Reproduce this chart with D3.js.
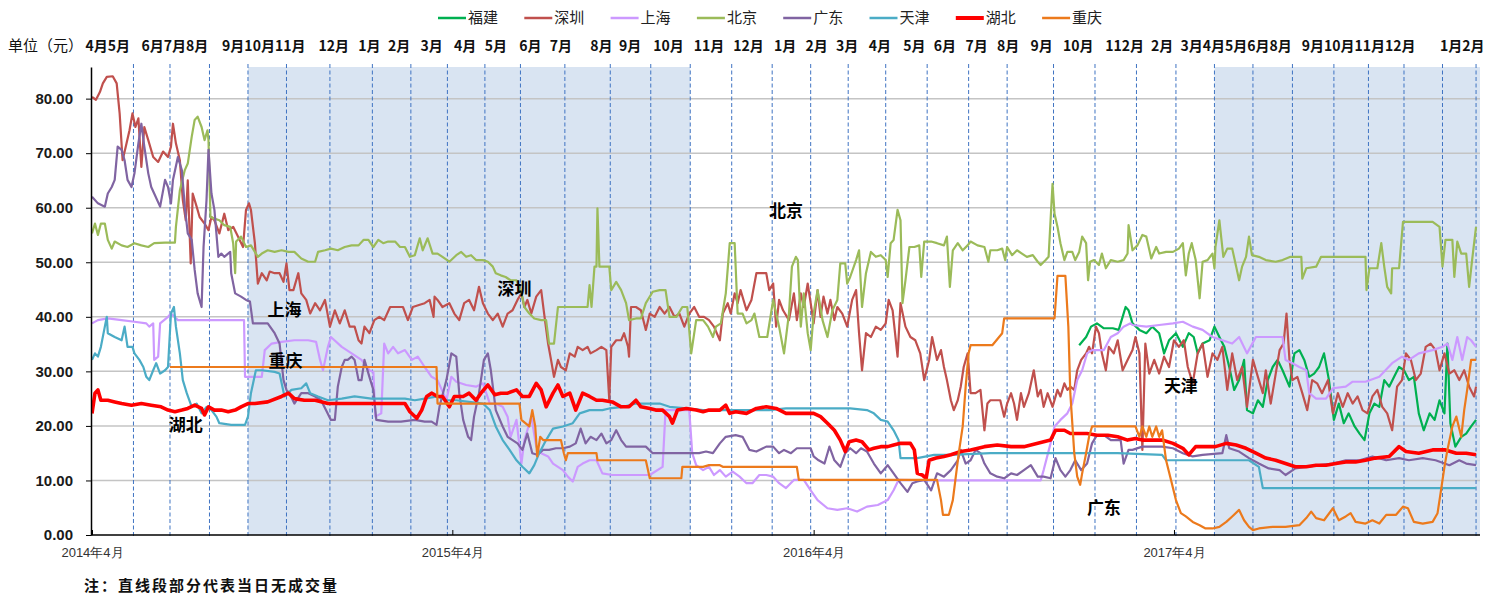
<!DOCTYPE html>
<html>
<head>
<meta charset="utf-8">
<script src="https://cdn.jsdelivr.net/npm/d3@7/dist/d3.min.js"></script>
<style>
	body{margin:0;background:#fff;}
	svg{display:block;font-family:"Noto Sans CJK SC","Noto Sans",sans-serif;}
</style>
</head>
<body>
<svg id="chart" width="1502" height="597"></svg>
<script>
// day offsets are counted from 2014-04-01
var baseDay = Date.UTC(2014, 3, 1);
var lastDay = 1406;

var seriesNames = ['福建', '深圳', '上海', '北京', '广东', '天津', '湖北', '重庆'];
var seriesColors = ['#00b050', '#c0504d', '#cc99ff', '#9bbb59', '#8064a2', '#4bacc6', '#ff0000', '#ec7a1c'];

var fujian = [[1000,34.8],[1007,36.3],[1012,38.2],[1018,38.8],[1025,37.9],[1034,37.9],[1040,37.6],[1044,40],[1047,41.8],[1050,41.2],[1054,38.8],[1061,37.6],[1068,37],[1074,38.2],[1081,37],[1086,33.3],[1091,35.7],[1098,37],[1105,34.5],[1111,37],[1116,36.3],[1120,33.3],[1125,35.1],[1132,35.7],[1137,38.2],[1142,36.3],[1147,34.5],[1152,30.8],[1157,26.6],[1162,28.4],[1167,32.1],[1170,22.9],[1176,22.3],[1181,24.7],[1186,23.5],[1191,28.4],[1196,30.8],[1201,32.1],[1206,30.2],[1213,27.2],[1218,33.3],[1223,33.9],[1228,32.1],[1233,29],[1238,29.6],[1243,30.8],[1248,33.3],[1253,28.4],[1258,21.1],[1263,24.1],[1268,20.5],[1273,22.3],[1279,19.9],[1284,18.6],[1289,17.4],[1294,22.3],[1299,24.1],[1304,23.5],[1309,28.4],[1314,27.2],[1319,29],[1324,30.8],[1329,30.2],[1334,28.4],[1339,29],[1344,22.3],[1349,19.2],[1355,22.3],[1360,21.1],[1365,24.7],[1370,22.3],[1373,35.1],[1376,20.5],[1381,16.2],[1387,18],[1392,18.6],[1397,19.9],[1402,21.1]];

var shenzhen = [[0,80.3],[4,79.8],[8,81.2],[11,82.8],[15,84],[21,84.1],[25,82.8],[28,77.3],[31,68.7],[35,71.8],[38,74.2],[41,77.3],[44,74.8],[47,76.4],[50,67.5],[53,74.8],[57,72.4],[62,69.3],[67,68.4],[72,70.3],[77,69.3],[80,71.2],[82,75.4],[85,71.8],[89,68.7],[92,61.4],[95,57.7],[97,65],[100,49.8],[102,62.6],[106,60.2],[109,58.3],[114,57.1],[118,55.9],[121,58.3],[124,57.7],[129,55.3],[134,58.9],[138,55.9],[143,56.5],[148,54.7],[153,52.8],[156,59.6],[159,60.8],[161,59.6],[165,53.5],[168,46.1],[172,48],[177,46.7],[180,48.3],[185,48],[190,48],[194,46.4],[197,49.8],[200,44.9],[204,44.9],[209,48],[212,44.3],[217,43.1],[221,40.6],[226,42.5],[231,41.2],[236,43.1],[241,38.2],[246,41.2],[251,38.8],[256,41.2],[261,38.2],[266,38.2],[270,35.7],[273,35.1],[276,38.2],[281,37],[286,39.4],[291,40],[296,39.4],[302,41.8],[308,41.8],[315,41.8],[320,39.4],[325,41.8],[332,42.2],[337,42.5],[342,43.1],[346,40],[347,43.7],[350,43.1],[355,41.8],[362,42.5],[367,40.6],[372,39.4],[377,42.5],[382,43.1],[387,41.2],[392,45.5],[396,42.5],[401,40.6],[406,39.4],[411,40.6],[416,38.2],[421,40.6],[426,41.2],[431,43.1],[435,44.3],[438,41.8],[441,43.1],[445,40.6],[450,43.7],[455,44.9],[458,40.6],[462,35.1],[465,32.1],[468,29],[472,32.1],[475,30.8],[480,30.2],[484,33.3],[489,32.7],[492,34.5],[497,33.9],[502,34.5],[505,33.3],[511,33.9],[516,34.5],[521,33.9],[524,24.7],[526,34.5],[531,35.7],[536,35.7],[539,37],[543,34.5],[544,32.7],[546,41.8],[551,41.8],[556,41.2],[561,37.6],[565,40.6],[570,40],[575,41.8],[580,40.6],[585,41.8],[590,40],[595,40.6],[600,38.2],[605,40.6],[610,41.8],[615,40],[620,40],[625,39.4],[630,38.2],[636,35.7],[639,40.6],[644,42.5],[647,40.6],[651,44.3],[654,42.5],[657,44.9],[663,41.2],[668,43.1],[673,48],[678,48],[683,48],[686,44.9],[690,46.1],[693,38.2],[696,43.1],[700,41.2],[706,39.4],[711,44.3],[714,39.4],[718,44.3],[721,41.8],[725,46.1],[728,42.5],[731,38.8],[735,44.9],[738,40],[741,43.7],[745,40.6],[748,43.1],[752,39.4],[755,41.8],[760,40.6],[765,38.2],[770,43.1],[774,44.9],[777,37],[780,30.2],[784,37],[789,36.3],[794,38.2],[799,37.6],[804,38.8],[807,43.1],[811,41.2],[816,32.7],[819,42.5],[824,38.2],[829,36.3],[834,35.7],[839,33.3],[843,28.4],[848,32.1],[851,36.3],[856,32.1],[860,33.9],[863,30.8],[866,28.4],[870,24.7],[873,22.9],[877,24.7],[880,27.2],[883,30.8],[887,33.3],[890,26],[895,26],[900,26.6],[904,19.2],[907,24.1],[910,24.7],[920,24.7],[924,21.7],[927,24.1],[931,26],[934,24.1],[937,21.1],[941,26],[944,23.5],[949,26],[954,30.2],[958,25.4],[961,26.6],[964,23.5],[968,26],[973,23.5],[978,26.6],[981,25.4],[985,27.8],[988,26.6],[991,27.2],[995,26.6],[998,30.2],[1002,32.1],[1007,33.3],[1010,34.5],[1013,33.3],[1017,38.2],[1020,37],[1023,33.3],[1027,30.2],[1030,34.5],[1035,33.3],[1039,35.7],[1044,30.2],[1049,32.1],[1054,33.9],[1057,36.3],[1061,33.3],[1064,15.6],[1067,35.1],[1071,29.6],[1076,32.1],[1081,29.6],[1086,32.7],[1091,30.8],[1096,35.7],[1101,34.5],[1106,35.7],[1110,30.8],[1115,27.8],[1120,33.3],[1125,35.1],[1130,29],[1135,33.3],[1140,32.1],[1145,34.5],[1150,26.6],[1155,33.3],[1160,28.4],[1165,30.8],[1170,23.5],[1176,32.1],[1181,29],[1186,26],[1189,30.2],[1194,24.1],[1198,28.4],[1203,33.9],[1207,35.1],[1210,40.6],[1213,32.1],[1216,28.4],[1221,29],[1226,26],[1231,22.9],[1236,28.4],[1241,27.8],[1246,26],[1252,28.4],[1257,22.3],[1262,26],[1267,23.5],[1272,26],[1277,24.1],[1282,25.4],[1287,22.9],[1292,22.3],[1297,25.4],[1302,26.6],[1307,23.5],[1312,22.3],[1317,19.2],[1322,27.2],[1327,28.4],[1331,33.3],[1336,32.1],[1341,28.4],[1346,29.6],[1351,34.5],[1356,35.1],[1361,33.9],[1365,30.2],[1370,33.3],[1375,29.6],[1380,30.2],[1385,28.4],[1390,30.2],[1395,27.2],[1400,25.4],[1402,27.2]];

var shanghai = [[0,38.8],[6,39.4],[16,39.7],[30,39.4],[43,39.1],[55,38.8],[58,38.2],[62,38.8],[63,32.1],[67,32.7],[69,38.8],[77,40],[80,40.6],[87,39.4],[97,39.4],[114,39.4],[131,39.4],[154,39.4],[155,29],[172,29],[175,33.9],[182,35.1],[192,35.4],[205,35.7],[219,35.7],[227,35.4],[231,32.1],[234,30.2],[239,34.5],[242,36.3],[253,34.5],[263,33.3],[273,32.1],[281,30.2],[285,29.9],[287,21.7],[293,22.3],[296,35.1],[300,33.3],[305,34.5],[310,33.3],[317,33.9],[324,32.1],[330,32.7],[337,30.8],[344,29],[350,28.4],[359,24.7],[364,29],[369,28.1],[379,27.5],[389,27.2],[396,27.8],[403,24.1],[409,24.1],[416,23.5],[421,21.7],[424,18],[430,21.1],[435,13.1],[438,17.4],[441,19.2],[445,21.7],[450,16.2],[455,15],[462,14.4],[467,13.1],[472,12.5],[477,11.9],[482,10.7],[487,9.8],[492,12.5],[497,13.1],[504,13.7],[511,13.7],[517,11.3],[527,11],[551,11],[565,11],[578,12.5],[581,22.9],[605,22.9],[608,15],[612,12.8],[619,11.9],[625,12.5],[630,11],[636,11.9],[642,10.7],[649,11.6],[656,10.7],[663,9.5],[669,9.5],[676,11],[683,11],[690,10.7],[696,9.5],[703,8.6],[711,10.1],[721,10.1],[728,8.2],[735,6.4],[745,4.9],[755,4.6],[765,4.9],[775,4.3],[785,5.2],[796,5.5],[806,6.4],[812,8.2],[817,10.1],[846,10],[904,10],[961,10],[964,11.9],[971,16.8],[975,19.9],[981,21.1],[988,22.3],[993,24.1],[998,28.4],[1003,30.2],[1008,33.3],[1013,33.9],[1025,33.9],[1032,36.3],[1039,37],[1045,38.2],[1052,38.8],[1054,38.5],[1068,38.2],[1081,38.5],[1095,38.8],[1105,39.1],[1115,38.2],[1125,37.6],[1135,36.3],[1145,35.7],[1155,35.1],[1162,36.3],[1170,33.3],[1179,36.3],[1206,36.3],[1209,32.1],[1216,31.5],[1223,30.8],[1230,30.2],[1233,26],[1240,25],[1250,25],[1257,26.9],[1270,27.2],[1277,28.1],[1290,28.1],[1304,29],[1317,31.5],[1327,32.7],[1334,32.1],[1344,33.3],[1358,33.9],[1368,34.5],[1373,35.1],[1378,32.1],[1383,36.3],[1388,32.1],[1393,36.3],[1397,35.7],[1402,34.5]];

var beijing = [[0,55.3],[3,57.1],[6,55],[9,57.1],[13,57.1],[16,54.1],[20,52.5],[23,53.8],[30,53.1],[36,52.8],[43,53.5],[50,53.1],[57,52.8],[63,53.5],[74,53.6],[84,53.6],[85,56.5],[89,63.2],[94,66.9],[97,68.1],[101,73],[104,76.1],[107,76.7],[111,74.8],[114,72.4],[117,74.2],[118,72.4],[120,58.3],[124,58],[129,57.7],[134,56.8],[140,56.5],[143,53.5],[145,48],[146,53.8],[151,54.7],[156,52.8],[161,53.1],[165,51.9],[168,51],[172,51.6],[178,52.2],[185,51.9],[192,52.2],[199,51.9],[205,51.9],[212,50.7],[219,50.1],[226,50.1],[229,51.9],[236,52.2],[242,52.5],[249,52.2],[256,52.8],[263,53.1],[270,53.1],[275,54.1],[280,54.1],[285,52.8],[290,54.1],[295,53.5],[300,53.8],[307,53.8],[312,52.8],[317,52.8],[322,51],[327,51.3],[332,54.4],[335,52.2],[340,54.4],[345,51.6],[350,51.6],[355,51],[362,50.1],[369,51.3],[374,51.9],[379,51],[384,51.3],[389,50.4],[396,50.4],[401,50.1],[406,49.2],[409,48],[414,47.6],[419,47.3],[424,46.7],[430,46.7],[435,44.3],[438,41.8],[443,40.6],[448,39.7],[455,39.4],[460,39.4],[463,35.1],[468,35.1],[472,41.8],[502,41.8],[504,45.8],[506,41.8],[509,49.2],[511,49.2],[512,59.9],[514,49.2],[524,49.2],[526,44.9],[531,46.4],[536,44.9],[541,42.5],[544,39.4],[551,39.7],[556,39.7],[561,42.5],[568,44.6],[575,44.9],[581,44.9],[585,40],[592,40],[598,41.8],[603,41.8],[607,33.3],[612,39.4],[619,39.4],[624,38.2],[629,36.3],[632,38.2],[637,38.8],[642,44.3],[646,53.5],[651,53.5],[654,40.6],[659,40.6],[663,38.8],[668,39.4],[671,40.6],[676,36.3],[684,36.3],[690,43.1],[696,38.2],[701,33.3],[706,40.6],[709,49.2],[713,51],[715,50.4],[718,38.2],[721,44.3],[725,37],[728,33.9],[731,40.6],[735,44.9],[740,39.4],[745,36.3],[750,41.2],[755,43.1],[758,49.8],[763,49.8],[765,46.1],[768,47.3],[774,50.4],[777,52.2],[780,41.8],[784,48],[789,51.9],[794,51],[799,51.3],[804,50.4],[806,47.3],[809,53.5],[812,54.1],[816,59.6],[819,57.7],[821,42.5],[824,46.7],[828,52.8],[833,52.8],[838,53.1],[840,47.3],[843,53.8],[850,53.8],[856,53.5],[863,53.1],[866,54.7],[869,45.5],[872,52.2],[877,53.5],[882,52.2],[887,53.1],[890,53.8],[897,53.1],[904,52.8],[908,50.1],[910,52.2],[917,52.2],[922,52.5],[925,50.4],[927,52.8],[932,51.3],[937,52.2],[942,51.6],[947,51],[953,51.3],[958,50.1],[961,49.5],[966,50.4],[969,51],[971,57.7],[973,64.4],[975,58.9],[978,56.5],[981,53.5],[985,50.4],[988,51.9],[993,51.9],[996,50.4],[1000,51.9],[1003,54.7],[1007,53.5],[1009,46.7],[1011,50.1],[1015,50.4],[1020,49.5],[1023,51.6],[1027,48.9],[1032,50.4],[1039,50.1],[1045,50.4],[1049,51.6],[1050,56.8],[1054,52.2],[1059,53.1],[1064,55],[1068,54.7],[1073,50.7],[1078,52.8],[1081,51.6],[1088,51.9],[1095,51.9],[1101,52.5],[1105,53.5],[1108,47.6],[1111,51.6],[1114,53.5],[1118,50.4],[1122,43.4],[1125,50.1],[1130,50.4],[1135,51.6],[1137,48.9],[1138,52.8],[1142,57.7],[1146,51],[1150,52.5],[1155,52.5],[1159,49.2],[1162,46.7],[1165,49.2],[1169,51],[1172,54.7],[1175,51.3],[1182,51],[1189,50.4],[1199,50.1],[1206,50.4],[1214,51],[1225,51],[1226,47],[1230,48.9],[1240,49.2],[1245,51],[1290,51],[1291,44.9],[1294,48.9],[1302,48.9],[1306,53.5],[1309,49.2],[1312,45.5],[1316,44.3],[1317,48.9],[1324,48.9],[1328,57.4],[1358,57.4],[1365,56.5],[1368,49.2],[1371,54.1],[1378,54.1],[1380,47.3],[1383,53.8],[1387,51.6],[1392,51.6],[1395,45.5],[1398,50.4],[1402,56.5]];

var guangdong = [[0,62],[6,60.8],[13,60.2],[16,62.6],[20,63.8],[23,65.1],[26,71.2],[30,70.6],[33,68.7],[36,65.1],[40,63.8],[43,66.3],[47,71.8],[50,75.4],[53,71.2],[57,66.3],[60,63.8],[63,62.6],[69,60.2],[74,65.1],[77,63.8],[80,60.8],[82,65.1],[87,69.3],[91,66.9],[94,60.2],[97,55.3],[101,54.1],[104,48.6],[107,44.3],[111,41.8],[113,52.8],[116,61.4],[118,70.6],[121,62.6],[124,59.6],[128,51],[131,51.6],[134,51],[140,51.9],[141,48],[145,44.3],[151,43.7],[156,43.1],[160,42.8],[163,38.8],[178,38.8],[185,37],[190,35.1],[194,28.4],[197,26.6],[200,26],[205,24.1],[212,26],[219,26],[226,25.4],[232,24.7],[237,22.9],[242,21.1],[246,21.1],[249,27.2],[253,30.8],[256,32.1],[259,32.1],[263,32.7],[266,32.1],[270,28.4],[273,28.4],[276,32.1],[281,29],[285,26.6],[288,21.1],[300,20.8],[313,20.8],[327,21.1],[337,20.8],[344,20.8],[349,20.2],[352,23.5],[359,28.4],[364,33.3],[369,32.7],[372,26],[376,21.1],[381,18],[384,17.4],[387,21.7],[392,26],[397,32.1],[401,33.3],[404,30.2],[409,22.9],[416,19.9],[421,18],[426,17.4],[431,16.8],[436,15.6],[441,18.6],[446,15],[451,14.7],[457,15.6],[463,15.6],[470,15.9],[477,15.9],[484,16.2],[490,16.8],[495,19.5],[500,16.8],[505,18],[511,17.4],[516,18.6],[521,16.8],[526,17.4],[531,19.2],[536,17.4],[541,16.2],[561,16.2],[568,15],[615,15],[622,15.3],[629,15],[636,16.8],[642,18],[652,18.3],[659,18],[666,15.6],[673,15.3],[683,16.2],[690,16.2],[696,15],[701,15.6],[708,15],[714,15.9],[728,15.9],[731,14.4],[736,13.7],[742,13.1],[747,16.2],[752,13.7],[758,12.5],[763,15],[768,15.9],[774,15],[779,15.9],[785,15.3],[792,13.1],[799,11.3],[806,12.8],[812,11.3],[819,9.5],[826,7.9],[831,9.5],[836,9.8],[843,10.1],[850,8.2],[856,11.3],[863,10.7],[870,11.9],[877,13.7],[880,15.6],[885,13.1],[890,13.7],[895,15.6],[900,15],[904,13.1],[910,11.3],[917,10.7],[924,10.4],[931,11.3],[937,11],[944,11.9],[951,12.8],[958,10.7],[964,10.7],[971,10.4],[976,14.1],[981,11.9],[986,10.7],[991,11.9],[996,13.7],[1002,11.9],[1008,13.1],[1013,16.8],[1018,18.3],[1025,18.3],[1032,17.4],[1042,17.4],[1045,13.1],[1050,15.6],[1054,15.6],[1064,16.2],[1084,16.2],[1095,15.9],[1105,15],[1115,14.4],[1125,14.7],[1145,15],[1149,18.3],[1152,15.9],[1162,15.3],[1172,14.1],[1182,13.1],[1192,12.2],[1203,11.9],[1209,11],[1219,12.2],[1230,12.5],[1243,12.8],[1257,13.1],[1270,13.7],[1284,13.7],[1297,14.4],[1311,13.7],[1324,14.1],[1334,13.7],[1348,14.1],[1361,13.7],[1375,12.8],[1385,13.7],[1392,13.1],[1402,12.8]];

var tianjin = [[0,32.1],[3,33.3],[6,32.7],[9,34.5],[13,38.2],[15,40],[16,37],[23,36.3],[30,35.7],[33,38.2],[36,34.5],[41,34.5],[43,33.3],[48,32.1],[52,30.8],[55,29],[58,28.4],[62,30.2],[65,31.5],[69,29.6],[74,30.2],[77,30.8],[80,40.6],[83,41.8],[85,38.2],[89,33.3],[92,28.4],[96,26],[101,23.5],[106,24.1],[111,22.3],[116,23.5],[121,22.9],[126,21.7],[129,20.5],[141,20.2],[155,20.2],[158,21.7],[161,26],[166,30.2],[172,30.2],[185,29.9],[190,29.6],[195,25.4],[202,26.6],[212,26.9],[217,27.8],[221,26],[229,25.4],[239,24.7],[253,25],[266,25.4],[283,25],[317,25],[327,24.7],[337,25],[350,25.4],[359,24.7],[369,24.7],[382,24.4],[396,24.1],[403,22.9],[409,19.9],[416,17.4],[423,15.6],[430,13.7],[436,12.5],[443,11.3],[448,12.8],[453,15],[460,17.4],[467,19.5],[477,19.9],[487,20.5],[494,22.3],[504,22.9],[517,22.9],[524,23.2],[538,23.5],[551,24.1],[575,24.1],[585,23.5],[602,23.2],[619,22.9],[686,22.9],[703,23.2],[768,23.2],[785,22.9],[792,22.3],[799,21.1],[806,20.8],[812,19.2],[817,17.4],[819,14.1],[836,14.1],[853,14.7],[870,14.7],[910,15],[1039,15],[1084,14.7],[1088,13.7],[1172,13.7],[1182,12.5],[1186,8.6],[1402,8.6]];

var hubei = [[0,22.3],[3,26],[6,26.6],[9,24.7],[16,24.7],[23,24.4],[30,24.1],[40,23.8],[50,24.1],[60,23.8],[70,23.5],[77,22.9],[84,22.6],[91,22.9],[97,23.2],[104,23.8],[111,23.2],[114,22],[118,23.5],[124,22.9],[131,22.9],[138,22.6],[145,22.9],[151,23.5],[158,24.1],[165,24.1],[178,24.4],[192,25.4],[199,26],[205,25],[215,24.7],[226,24.7],[239,24.1],[317,24.1],[322,22.6],[329,21.4],[334,22.9],[339,25.4],[344,26],[350,25.4],[355,25.4],[362,23.5],[367,25.4],[376,25.4],[382,26],[389,24.7],[394,26],[401,27.5],[408,25.7],[414,26],[421,26],[430,26.6],[436,25.4],[443,25.4],[450,27.8],[455,26.6],[460,23.5],[467,26],[472,27.5],[477,25.4],[484,26],[490,22.9],[497,26],[504,25.4],[511,24.7],[517,24.7],[527,24.4],[536,23.5],[544,23.5],[551,24.7],[556,23.5],[565,23.2],[571,22.9],[578,22.9],[585,21.7],[588,20.5],[593,22.9],[602,23.2],[612,22.9],[619,22.6],[625,22.9],[636,22.9],[642,23.8],[646,22.3],[652,22.6],[663,22.3],[673,23.2],[683,23.5],[693,23.2],[703,22.3],[731,22.3],[738,21.7],[745,20.5],[752,19.2],[758,17.4],[763,15.3],[767,17.1],[774,17.4],[780,17.1],[787,15.6],[792,15.9],[799,16.2],[806,16.2],[812,16.5],[819,16.8],[829,16.8],[833,15.6],[836,11.3],[841,11],[845,10.4],[848,13.7],[855,14.1],[863,14.4],[870,14.7],[880,15.3],[890,15.6],[904,16.2],[917,16.5],[931,16.2],[944,16.2],[958,16.8],[971,17.4],[976,19.2],[985,19.2],[991,18.6],[1008,18.6],[1018,18.3],[1029,18.3],[1039,18],[1049,17.4],[1057,17.7],[1064,17.4],[1084,17.4],[1095,16.8],[1105,15.9],[1111,14.7],[1118,16.2],[1138,16.2],[1149,16.8],[1159,16.5],[1169,15.9],[1179,15],[1189,14.1],[1199,13.7],[1209,13.1],[1219,12.5],[1230,12.5],[1240,12.8],[1250,12.8],[1260,13.1],[1270,13.4],[1280,13.4],[1290,13.7],[1300,14.1],[1314,14.4],[1324,16.2],[1331,15.3],[1344,15],[1358,15.6],[1371,15.6],[1382,15],[1392,15],[1402,14.7]];

var chongqing = [[79,30.8],[349,30.8],[350,24.1],[433,24.1],[435,21.1],[443,19.9],[446,22.9],[449,19.9],[451,14.4],[454,18],[457,17.4],[475,17.4],[478,15],[480,13.7],[482,15],[511,15],[512,13.7],[561,13.7],[565,10.4],[597,10.4],[598,12.5],[619,12.5],[625,12.8],[636,12.8],[639,12.5],[714,12.5],[716,10.1],[856,10.1],[860,6.4],[862,3.7],[868,3.7],[872,6.4],[875,10.7],[878,15],[882,19.9],[885,27.2],[888,33.3],[890,34.8],[912,34.8],[922,37],[924,39.7],[975,39.7],[978,47.5],[986,47.5],[989,38.2],[991,26],[995,15],[998,10.7],[1001,9.2],[1003,11.3],[1007,15],[1010,18],[1013,19.9],[1057,19.9],[1061,18],[1064,19.9],[1068,18],[1071,19.9],[1074,18],[1078,19.9],[1081,18],[1084,19.2],[1088,13.7],[1093,10.1],[1098,6.4],[1103,4],[1108,3.4],[1115,2.4],[1122,1.8],[1128,1.2],[1135,1.2],[1142,1.5],[1149,2.4],[1155,3.4],[1162,4.6],[1167,2.7],[1172,1.5],[1176,0.9],[1182,1.2],[1196,1.5],[1209,1.5],[1223,1.8],[1230,3.1],[1235,4.3],[1240,3.1],[1248,2.7],[1257,4.9],[1263,2.7],[1270,3.4],[1275,4],[1280,2.4],[1290,2.1],[1297,2.7],[1304,2.1],[1311,3.7],[1321,3.7],[1328,5.2],[1333,4.9],[1339,2.4],[1348,2.1],[1358,2.4],[1363,4],[1366,7.6],[1370,12.5],[1373,15.6],[1378,19.9],[1382,21.7],[1387,18],[1390,22.9],[1393,26.6],[1397,32.1],[1402,32.1]];

var allSeries = [fujian, shenzhen, shanghai, beijing, guangdong, tianjin, hubei, chongqing];

var yTicks = [0, 10, 20, 30, 40, 50, 60, 70, 80];
var yearTickDays = [0, 365, 731, 1096];
var dashDays = [42, 79, 119, 158, 197, 241, 284, 323, 360, 398, 434, 479, 525, 566, 606, 648, 689, 728, 766, 804, 846, 888, 927, 974, 1016, 1058, 1098, 1137, 1176, 1216, 1258, 1293, 1329, 1368, 1402];
var shadeSpans = [[158, 606], [1137, lastDay]];
var monthLabels = [['4月5月', 16], ['6月7月8月', 84], ['9月10月11月', 174], ['12月', 245], ['1月', 281], ['2月', 311], ['3月', 344], ['4月', 378], ['5月', 409], ['6月', 444], ['7月', 475], ['8月', 516], ['9月', 545], ['10月', 584], ['11月', 625], ['12月', 665], ['1月', 702], ['2月', 734], ['3月', 765], ['4月', 798], ['5月', 833], ['6月', 864], ['7月', 896], ['8月', 928], ['9月', 962], ['10月', 999], ['112月', 1046], ['2月', 1084], ['3月4月5月6月8月', 1159], ['9月10月11月12月', 1283], ['1月2月', 1388]];
var seriesTags = [['北京', 703, 59.4], ['深圳', 428, 45.1], ['上海', 195, 41.2], ['重庆', 196, 31.9], ['湖北', 95, 20.2], ['天津', 1103, 27.3], ['广东', 1025, 4.9]];

(function(){
	var svg = d3.select('#chart');
	var W = 1502, H = 597;
	var plot = {l: 91, r: 1480, t: 67, b: 535};

	svg.append('rect').attr('width', W).attr('height', H).attr('fill', '#fff');

	var toDate = function(d){ return new Date(baseDay + d * 864e5); };
	var x = d3.scaleUtc().domain([toDate(0), toDate(lastDay)]).range([92, plot.r]);
	var y = d3.scaleLinear().domain([0, 85.8]).range([plot.b, plot.t]);

	svg.append('clipPath').attr('id', 'clip')
		.append('rect').attr('x', plot.l).attr('y', plot.t - 2).attr('width', plot.r - plot.l).attr('height', plot.b - plot.t + 2);

	// shaded periods
	svg.append('g').selectAll('rect').data(shadeSpans).join('rect')
		.attr('x', function(s){ return x(toDate(s[0])); })
		.attr('y', plot.t)
		.attr('width', function(s){ return x(toDate(s[1])) - x(toDate(s[0])); })
		.attr('height', plot.b - plot.t)
		.attr('fill', '#d9e4f2');

	// horizontal grid
	svg.append('g').selectAll('line').data(yTicks.filter(function(t){ return t > 0; })).join('line')
		.attr('x1', plot.l).attr('x2', plot.r)
		.attr('y1', function(t){ return y(t); }).attr('y2', function(t){ return y(t); })
		.attr('stroke', '#c4c4c4').attr('stroke-width', 1.5);

	// dashed markers
	svg.append('g').selectAll('line').data(dashDays).join('line')
		.attr('x1', function(d){ return x(toDate(d)); }).attr('x2', function(d){ return x(toDate(d)); })
		.attr('y1', plot.t - 3).attr('y2', plot.b + 3)
		.attr('stroke', '#3f73c2').attr('stroke-width', 1).attr('stroke-dasharray', '4,2.5');

	// series
	var line = d3.line()
		.x(function(p){ return x(toDate(p[0])); })
		.y(function(p){ return y(p[1]); });

	var gLines = svg.append('g').attr('clip-path', 'url(#clip)');
	allSeries.forEach(function(s, i){
		gLines.append('path')
			.attr('d', line(s))
			.attr('fill', 'none')
			.attr('stroke', seriesColors[i])
			.attr('stroke-width', seriesNames[i] === '湖北' ? 3.6 : 2.2)
			.attr('stroke-linejoin', 'round');
	});

	// axes
	var yAxis = d3.axisLeft(y).tickValues(yTicks).tickFormat(d3.format('.2f'))
		.tickSizeInner(5).tickSizeOuter(0).tickPadding(13);
	var gy = svg.append('g').attr('transform', 'translate(' + plot.l + ',0)').call(yAxis);
	gy.select('.domain').attr('stroke', '#000').attr('stroke-width', 1.5);
	gy.selectAll('.tick line').attr('stroke', '#000');
	gy.selectAll('text').attr('font-family', 'Liberation Sans, Arial, sans-serif')
		.attr('font-size', 15).attr('font-weight', 'bold').attr('fill', '#1a1a1a');

	var xAxis = d3.axisBottom(x).tickValues(yearTickDays.map(toDate))
		.tickFormat(d3.utcFormat('%Y年%-m月')).tickSizeInner(-5).tickSizeOuter(0).tickPadding(13);
	var gx = svg.append('g').attr('transform', 'translate(0,' + plot.b + ')').call(xAxis);
	gx.select('.domain').attr('d', 'M' + plot.l + ',0H' + plot.r).attr('stroke', '#000').attr('stroke-width', 1.5);
	gx.selectAll('.tick line').attr('stroke', '#000');
	gx.selectAll('text').attr('font-size', 13).attr('fill', '#333');

	// top month row
	svg.append('text').attr('x', 8).attr('y', 51).attr('font-size', 15).attr('fill', '#111').text('单位（元）');
	svg.append('g').selectAll('text').data(monthLabels).join('text')
		.attr('x', function(m){ return x(toDate(m[1])); })
		.attr('y', 51)
		.attr('text-anchor', 'middle')
		.attr('font-size', 14).attr('font-weight', 'bold').attr('fill', '#111')
		.text(function(m){ return m[0]; });

	// legend
	var legend = svg.append('g');
	seriesNames.forEach(function(n, i){
		var lx = 438 + i * 86.3;
		legend.append('line').attr('x1', lx).attr('x2', lx + 28).attr('y1', 18).attr('y2', 18)
			.attr('stroke', seriesColors[i]).attr('stroke-width', n === '湖北' ? 4 : 2.5);
		legend.append('text').attr('x', lx + 30).attr('y', 18).attr('dy', '0.36em')
			.attr('font-size', 15).attr('fill', '#222').text(n);
	});

	// in-plot tags
	svg.append('g').selectAll('text').data(seriesTags).join('text')
		.attr('x', function(t){ return x(toDate(t[1])); })
		.attr('y', function(t){ return y(t[2]); })
		.attr('dy', '0.36em').attr('text-anchor', 'middle')
		.attr('font-size', 17).attr('font-weight', 'bold').attr('fill', '#000')
		.text(function(t){ return t[0]; });

	svg.append('text').attr('x', 84).attr('y', 591).attr('font-size', 15).attr('font-weight', 'bold')
		.attr('letter-spacing', 2).attr('fill', '#111').text('注：直线段部分代表当日无成交量');
})();
</script>
</body>
</html>
